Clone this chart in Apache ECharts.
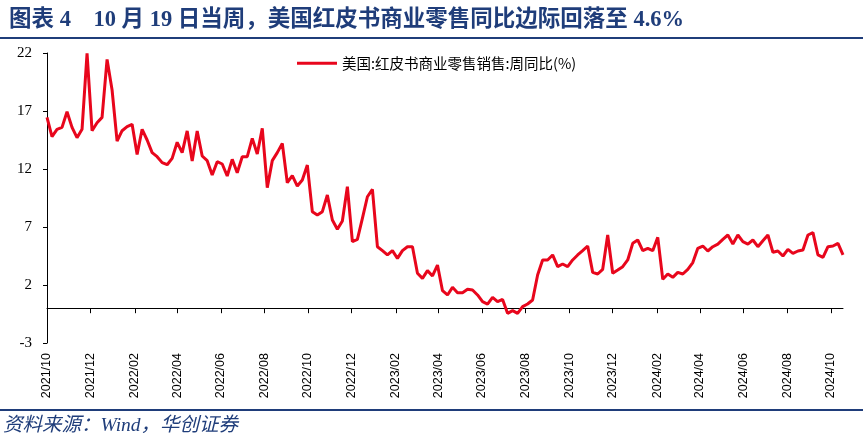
<!DOCTYPE html>
<html>
<head>
<meta charset="utf-8">
<script src="https://cdn.jsdelivr.net/npm/echarts@6/dist/echarts.min.js"></script>
<style>
html,body{margin:0;padding:0;background:#fff;}
#chart{width:863px;height:442px;}
</style>
</head>
<body>
<div id="chart"></div>
<script>
// ---- data ----
const titleText = '图表 4　10 月 19 日当周，美国红皮书商业零售同比边际回落至 4.6%';
const sourceText = '资料来源：Wind，华创证券';
const seriesName = '美国:红皮书商业零售销售:周同比(%)';
const startDate = [2021, 10, 2];   // first weekly observation (Saturday)
const weekCount = 160;
const xTickLabels = ['2021/10','2021/12','2022/02','2022/04','2022/06','2022/08','2022/10','2022/12',
  '2023/02','2023/04','2023/06','2023/08','2023/10','2023/12','2024/02','2024/04','2024/06','2024/08','2024/10'];
const yTicks = [-3, 2, 7, 12, 17, 22];
const values = [
16.45, 14.79, 15.42, 15.59, 16.94, 15.59, 14.70, 15.42, 21.97, 15.30,
15.99, 16.45, 21.45, 18.81, 14.41, 15.30, 15.65, 15.85, 13.26, 15.42,
14.50, 13.41, 13.06, 12.55, 12.37, 12.92, 14.30, 13.41, 15.28, 12.69,
15.28, 13.12, 12.72, 11.48, 12.63, 12.43, 11.40, 12.83, 11.68, 13.06,
13.06, 14.64, 13.29, 15.51, 10.39, 12.72, 13.41, 14.21, 10.82, 11.43,
10.53, 11.05, 12.34, 8.32, 8.03, 8.32, 9.76, 7.60, 6.80, 7.52,
10.48, 5.74, 5.94, 7.75, 9.61, 10.25, 5.30, 4.96, 4.59, 4.96,
4.30, 4.96, 5.30, 5.30, 3.01, 2.57, 3.24, 2.78, 3.72, 1.51,
1.14, 1.80, 1.34, 1.34, 1.63, 1.57, 1.14, 0.56, 0.36, 0.94,
0.56, 0.76, -0.44, -0.21, -0.44, 0.13, 0.36, 0.71, 2.86, 4.16,
4.16, 4.59, 3.58, 3.81, 3.58, 4.16, 4.59, 4.96, 5.36, 3.09,
2.95, 3.35, 6.31, 3.01, 3.29, 3.58, 4.16, 5.59, 5.88, 4.96,
5.16, 4.96, 6.11, 2.49, 2.95, 2.66, 3.09, 2.95, 3.35, 3.93,
5.16, 5.36, 4.93, 5.30, 5.53, 5.94, 6.31, 5.53, 6.31, 5.74,
5.53, 5.88, 5.30, 5.82, 6.31, 4.82, 4.93, 4.50, 5.07, 4.73,
4.93, 5.02, 6.31, 6.51, 4.59, 4.39, 5.30, 5.36, 5.59, 4.60
];

// ---- build ----
const DAY = 86400000;
const t0 = Date.UTC(startDate[0], startDate[1] - 1, startDate[2]);
const dates = [];
for (let i = 0; i < weekCount; i++) dates.push(t0 + i * 7 * DAY);
const seriesData = dates.map((d, i) => [d, values[i]]);
const tickVals = xTickLabels.map(s => { const [y, m] = s.split('/').map(Number); return Date.UTC(y, m - 1, 2); });
const fmt = v => { const d = new Date(v); return d.getUTCFullYear() + '/' + String(d.getUTCMonth() + 1).padStart(2, '0'); };

const blue = '#1F3D7A';
const chart = echarts.init(document.getElementById('chart'), null, {renderer: 'canvas'});
chart.setOption({
  animation: false,
  backgroundColor: '#fff',
  title: {
    text: titleText, left: 4, top: 4,
    textStyle: {color: blue, fontSize: 22.5, fontWeight: 'bold', fontFamily: '"Liberation Serif","Noto Sans CJK SC"'}
  },
  graphic: [
    {type: 'rect', left: 0, top: 37, shape: {width: 863, height: 2}, style: {fill: blue}, silent: true},
    {type: 'rect', left: 0, top: 409, shape: {width: 863, height: 2}, style: {fill: blue}, silent: true},
    {type: 'text', left: 3, top: 416, style: {text: sourceText, fill: blue, font: 'italic 19.5px "Liberation Serif","Noto Sans CJK SC"'}}
  ],
  legend: {
    top: 51, left: 292, icon: 'rect', itemWidth: 40, itemHeight: 3, itemGap: 6,
    textStyle: {fontSize: 14.5, color: '#000', fontFamily: '"Noto Sans CJK SC"'},
    data: [seriesName]
  },
  grid: {left: 47, right: 20, top: 53, bottom: 99, containLabel: false},
  xAxis: [
    {
      type: 'value', min: dates[0], max: dates[dates.length - 1], position: 'bottom',
      axisLine: {show: false, onZero: false}, axisTick: {show: false}, splitLine: {show: false},
      axisLabel: {
        rotate: 90, fontSize: 12.5, color: '#000', fontFamily: '"Liberation Sans",Arial', margin: 10,
        customValues: tickVals, formatter: fmt, showMinLabel: true, showMaxLabel: true, hideOverlap: false
      }
    },
    {
      type: 'value', min: dates[0], max: dates[dates.length - 1], position: 'top',
      axisLine: {show: true, onZero: true, onZeroAxisIndex: 0, lineStyle: {color: '#000', width: 1}},
      axisTick: {show: true, inside: true, length: 5, customValues: tickVals, lineStyle: {color: '#000'}},
      axisLabel: {show: false}, splitLine: {show: false}
    }
  ],
  yAxis: {
    type: 'value', min: yTicks[0], max: yTicks[yTicks.length - 1], interval: 5,
    axisLine: {show: true, lineStyle: {color: '#000', width: 1}},
    axisTick: {show: true, length: 4, lineStyle: {color: '#000'}},
    axisLabel: {fontSize: 15, color: '#000', fontFamily: '"Liberation Serif","Times New Roman"', margin: 15},
    splitLine: {show: false}
  },
  series: [{
    name: seriesName, type: 'line', xAxisIndex: 0, showSymbol: false, symbol: 'none',
    data: seriesData, color: '#E8061C',
    lineStyle: {width: 3, color: '#E8061C'}
  }]
});
</script>
</body>
</html>
